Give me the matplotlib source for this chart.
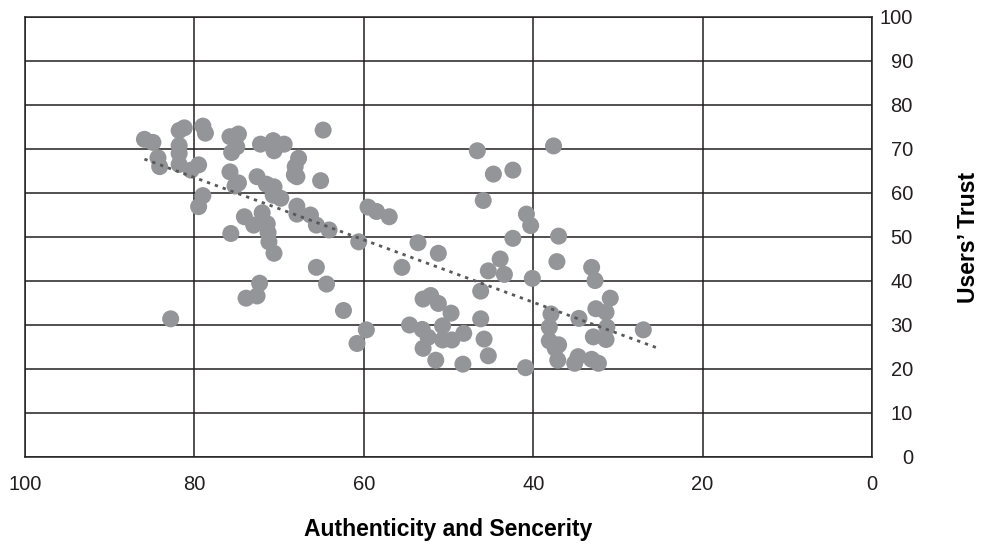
import numpy as np
import matplotlib
matplotlib.use("Agg")
import matplotlib.pyplot as plt

plt.rcParams["font.family"] = ["Liberation Sans", "DejaVu Sans"]

# Authenticity and Sencerity (x) vs Users' Trust (y)
authenticity = [
    85.9, 84.9, 84.3, 84.1, 81.8, 81.2, 81.8, 81.8, 81.8, 80.4, 79.5, 79.0, 78.7, 79.0, 79.5, 82.8,
    75.8, 74.8, 75.0, 75.6, 75.8, 75.2, 74.8, 75.7, 74.1, 73.9, 72.6, 72.3, 72.2, 70.7, 70.6, 69.4,
    72.6, 71.5, 70.6, 70.7, 69.8, 73.0, 72.0, 71.4, 71.3, 71.2, 70.6,
    67.7, 68.1, 68.2, 67.9, 67.9, 67.9, 66.3, 65.6, 65.1, 64.8, 64.1, 65.6, 64.4, 62.4,
    60.6, 60.8, 59.7, 59.5, 58.5, 57.0, 55.5, 54.6, 53.6, 53.1, 53.0, 52.1, 51.2, 51.2, 53.0, 52.4,
    51.5, 50.7, 50.7, 49.6, 49.7, 48.3, 48.2,
    46.6, 45.9, 46.2, 46.2, 45.8, 45.3, 44.7, 45.3, 43.9, 43.4, 42.4, 42.4, 40.8, 40.3, 40.1, 40.9,
    37.6, 37.0, 37.2, 37.9, 38.1, 38.1, 37.0, 37.4, 37.1, 34.6, 34.7, 35.1, 33.1, 32.7, 32.9, 33.1,
    32.3, 32.6, 31.4, 30.9, 31.3, 31.4, 27.0,
]
trust = [
    72.2, 71.5, 68.0, 66.0, 74.2, 74.8, 70.8, 69.0, 66.5, 65.2, 66.4, 75.2, 73.6, 59.4, 56.9, 31.4,
    72.8, 73.4, 70.5, 69.2, 64.8, 61.6, 62.3, 50.8, 54.6, 36.1, 36.6, 39.5, 71.1, 71.9, 69.6, 71.1,
    63.7, 62.0, 61.4, 59.5, 58.8, 52.7, 55.5, 53.0, 51.0, 48.9, 46.3,
    67.9, 66.0, 64.1, 63.7, 57.0, 55.2, 55.0, 52.7, 62.8, 74.3, 51.6, 43.1, 39.3, 33.3,
    48.9, 25.8, 28.9, 56.8, 55.8, 54.6, 43.1, 30.0, 48.7, 29.0, 35.9, 36.7, 34.9, 46.3, 24.7, 27.2,
    22.0, 29.8, 26.6, 26.6, 32.7, 21.1, 28.1,
    69.6, 58.3, 37.7, 31.4, 26.8, 23.0, 64.3, 42.3, 45.0, 41.5, 65.2, 49.7, 55.2, 52.6, 40.6, 20.3,
    70.7, 50.2, 44.4, 32.5, 29.5, 26.4, 25.5, 24.7, 22.0, 31.5, 22.8, 21.3, 43.1, 40.1, 27.3, 22.2,
    21.3, 33.7, 32.9, 36.1, 29.5, 26.7, 28.9,
]

x_ticks = [100, 80, 60, 40, 20, 0]
y_ticks = [0, 10, 20, 30, 40, 50, 60, 70, 80, 90, 100]

x = np.array(authenticity)
y = np.array(trust)

fig = plt.figure(figsize=(9.86, 5.44), dpi=100)
ax = fig.add_axes([25 / 986, 1 - 457 / 544, (872 - 25) / 986, (457 - 17) / 544])

ax.scatter(x, y, s=150, color="#939598", edgecolors="none", zorder=3)

# linear trend line
slope, intercept = np.polyfit(x, y, 1)
xt = np.array([x.max(), 25.0])
ax.plot(xt, slope * xt + intercept, color="#58595b", lw=2, linestyle=(0, (1.2, 1.8)), zorder=4)

ax.set_xlim(100, 0)
ax.set_ylim(0, 100)
ax.set_xticks(x_ticks)
ax.set_yticks(y_ticks)
ax.grid(True, color="#231f20", lw=1.1)
ax.set_axisbelow(True)
for s in ax.spines.values():
    s.set_color("#231f20")
    s.set_linewidth(1.1)

ax.yaxis.tick_right()
ax.yaxis.set_label_position("right")
ax.tick_params(axis="both", length=0, labelsize=14.5, colors="#231f20")
ax.tick_params(axis="x", pad=13)
ax.tick_params(axis="y", pad=29.5)
for lbl in ax.get_yticklabels():
    lbl.set_horizontalalignment("right")

ax.set_xlabel("Authenticity and Sencerity", fontsize=16.5, fontweight="bold")
ax.xaxis.set_label_coords(0.5, -0.138)
ax.set_ylabel("Users\u2019 Trust", fontsize=16.5, fontweight="bold", rotation=90)
ax.yaxis.set_label_coords(1.100, 0.5)

fig.savefig("out.png", dpi=100)
